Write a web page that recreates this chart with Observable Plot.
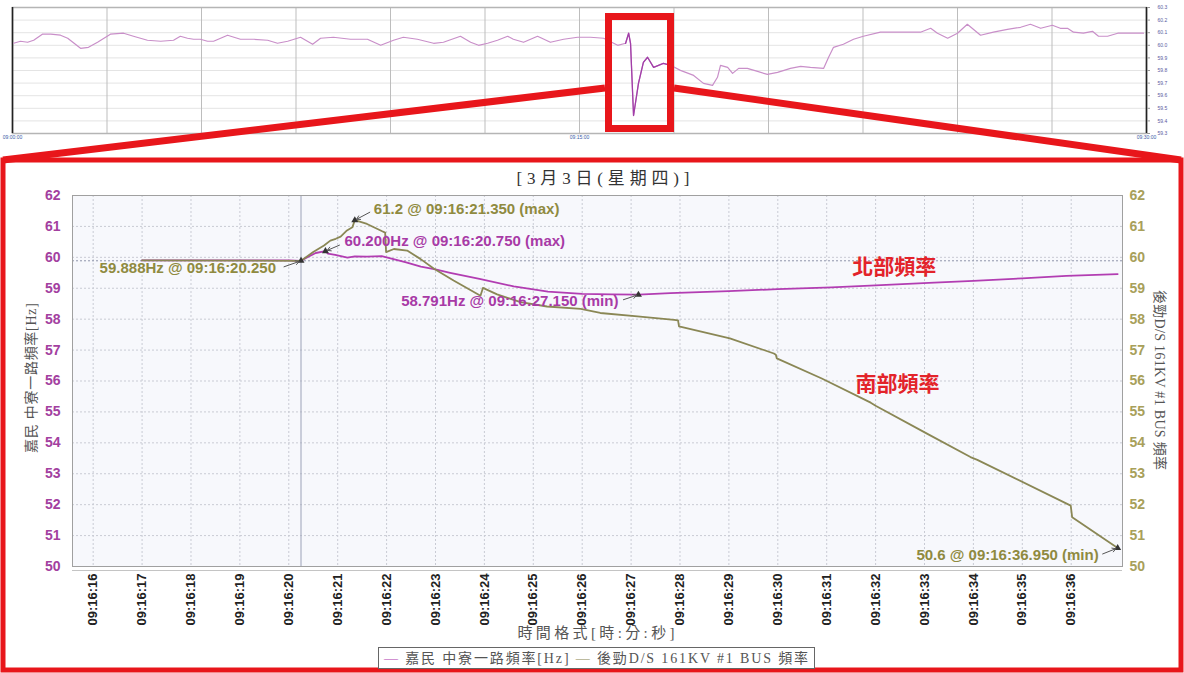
<!DOCTYPE html>
<html>
<head>
<meta charset="utf-8">
<script src="https://cdn.jsdelivr.net/npm/d3@7"></script>
<script src="https://cdn.jsdelivr.net/npm/@observablehq/plot@0.6"></script>
<style>
  html, body { margin: 0; padding: 0; background: #fff; }
  #page { position: relative; width: 1184px; height: 673px; overflow: hidden; background: #fff; }
  #ov { position: absolute; left: 0; top: 0; }
  #main { position: absolute; left: 0; top: 185px; }
  #deco { position: absolute; left: 0; top: 0; pointer-events: none; }
  .serif { font-family: "Liberation Serif", "Noto Sans CJK TC", serif; }
</style>
</head>
<body>
<div id="page">
  <div id="ov"></div>
  <div id="main"></div>
  <svg id="deco" width="1184" height="673"></svg>
</div>
<script>
// ---------------- DATA ----------------
// Overview (top strip): minutes after 09:00:00, frequency [Hz]
const ovT = [0.03,0.21,0.40,0.56,0.79,1.01,1.27,1.46,1.80,2.01,2.25,2.59,2.94,3.20,3.57,3.92,4.26,4.44,4.63,4.79,4.97,5.16,5.32,5.69,6.03,6.38,6.75,7.01,7.28,7.62,7.94,8.15,8.49,8.94,9.39,9.74,10.08,10.34,10.71,11.14,11.40,11.85,12.12,12.33,12.57,12.83,13.10,13.25,13.52,13.89,14.23,14.58,14.95,15.29,15.64,16.01,16.22,16.30,16.35,16.43,16.56,16.69,16.80,16.96,17.09,17.22,17.41,17.67,18.02,18.28,18.52,18.65,18.73,18.92,19.05,19.21,19.44,19.71,19.97,20.24,20.58,20.85,21.11,21.46,21.59,21.72,21.98,22.25,22.51,22.96,23.31,23.68,24.02,24.29,24.47,24.74,25.00,25.26,25.61,25.95,26.32,26.67,26.93,27.20,27.51,27.72,27.91,28.07,28.33,28.57,28.73,28.97,29.24,29.66,29.92];
const ovV = [60.016,60.032,60.024,60.040,60.088,60.088,60.080,60.056,59.976,59.984,60.024,60.088,60.096,60.072,60.040,60.032,60.040,60.072,60.056,60.048,60.048,60.032,60.032,60.080,60.048,60.048,60.040,60.016,60.032,60.064,60.008,60.056,60.064,60.048,60.048,60.000,60.040,60.064,60.048,60.016,60.024,60.072,60.024,60.000,60.016,60.040,60.072,60.048,60.024,60.072,60.024,60.048,60.064,60.064,60.056,60.000,60.016,60.096,60.016,59.443,59.698,59.865,59.905,59.825,59.841,59.857,59.841,59.801,59.761,59.698,59.682,59.746,59.841,59.825,59.777,59.817,59.817,59.793,59.769,59.785,59.817,59.833,59.825,59.817,59.905,59.984,60.008,60.048,60.072,60.104,60.104,60.104,60.104,60.135,60.096,60.056,60.096,60.167,60.080,60.104,60.127,60.143,60.167,60.135,60.159,60.135,60.135,60.104,60.096,60.111,60.072,60.072,60.096,60.096,60.096];
const ovYTicks = [59.3,59.4,59.5,59.6,59.7,59.8,59.9,60.0,60.1,60.2,60.3];
const ovXTicks = [0, 15, 30];
const ovXLabels = ["09:00:00", "09:15:00", "09:30:00"];

// Main chart: seconds after 09:16:00
const northName = "嘉民 中寮一路頻率[Hz]";
const southName = "後勁D/S 161KV #1 BUS 頻率";
const northT = [17.0,18.0,19.0,20.0,20.25,20.4,20.55,20.75,20.8,20.95,21.2,21.35,21.6,21.9,22.1,22.4,22.7,23.0,23.3,23.9,24.6,25.3,26.0,26.6,27.15,27.8,29.0,30.0,31.1,32.0,33.2,34.0,35.0,35.9,36.95];
const northV = [59.90,59.90,59.90,59.90,59.888,60.02,60.14,60.20,60.12,60.08,59.99,60.03,60.02,60.04,59.96,59.84,59.70,59.61,59.50,59.30,59.06,58.89,58.82,58.80,58.791,58.84,58.91,58.97,59.03,59.09,59.18,59.24,59.32,59.40,59.46];
const southT = [17.0,20.25,20.5,20.72,20.85,20.96,21.06,21.19,21.3,21.35,21.6,21.9,21.97,21.99,22.15,22.42,22.69,22.97,23.37,23.92,23.97,24.26,24.74,25.28,25.97,26.37,27.13,27.88,27.96,27.98,29.02,29.92,29.96,29.98,30.9,31.9,32.0,33.06,33.94,34.08,35.99,36.02,36.95];
const southV = [59.90,59.888,60.17,60.38,60.54,60.60,60.67,60.87,60.97,61.2,61.08,60.85,60.80,60.17,60.27,60.22,59.95,59.63,59.25,58.76,59.01,58.80,58.55,58.41,58.33,58.20,58.09,57.98,57.96,57.77,57.38,56.89,56.85,56.73,56.08,55.30,55.20,54.29,53.54,53.45,51.97,51.59,50.6];
const xTicks = [16,17,18,19,20,21,22,23,24,25,26,27,28,29,30,31,32,33,34,35,36];
const xTickLabels = xTicks.map(s => "09:16:" + s);
const yTicks = [50,51,52,53,54,55,56,57,58,59,60,61,62];

// Marked points (crosshair, max, min)
const markT = [20.25, 21.35, 20.75, 27.15, 36.95];
const markV = [59.888, 61.2, 60.2, 58.791, 50.6];
const markSeries = ["south", "south", "north", "north", "south"];
const markLabel = ["59.888Hz @ 09:16:20.250", "61.2 @ 09:16:21.350 (max)", "60.200Hz @ 09:16:20.750 (max)", "58.791Hz @ 09:16:27.150 (min)", "50.6 @ 09:16:36.950 (min)"];

const regionLabels = ["北部頻率", "南部頻率"];
const titleText = "[3月3日(星期四)]";
const xTitle = "時間格式[時:分:秒]";

// ---------------- STYLE / LAYOUT ----------------
const C_NORTH = "#b23db2", C_SOUTH = "#8a8755";
const C_NORTH_TXT = "#a83aa6", C_SOUTH_TXT = "#8f8a40";
const C_LEFT_TICK = "#a3409f", C_RIGHT_TICK = "#a8a05a";
const RED = "#e8161b";

const ov = ovT.map((t, i) => ({t, v: ovV[i]}));
const north = northT.map((t, i) => ({t, v: northV[i]}));
const south = southT.map((t, i) => ({t, v: southV[i]}));

// ---- Overview chart ----
const ovChart = Plot.plot({
  width: 1184, height: 140,
  marginLeft: 12, marginRight: 38, marginTop: 7, marginBottom: 7,
  x: {domain: [0, 30]},
  y: {domain: [59.3, 60.3]},
  style: {background: "transparent", fontFamily: "Liberation Sans, sans-serif", overflow: "visible"},
  marks: [
    Plot.gridY({ticks: ovYTicks, stroke: "#e4e4e4", strokeOpacity: 1}),
    Plot.gridX({ticks: d3.range(0, 30.01, 2.5), stroke: "#bdbdbd", strokeOpacity: 1}),
    Plot.frame({stroke: "#b5b5b5", strokeWidth: 1.5}),
    Plot.ruleX([0, 30], {stroke: "#222", strokeWidth: 1.6}),
    Plot.line(ov, {x: "t", y: "v", stroke: "#c98fc9", strokeWidth: 1.2}),
    Plot.line(ov.filter(d => d.t >= 16.2 && d.t <= 17.5), {x: "t", y: "v", stroke: "#a23ea8", strokeWidth: 1.3}),
    Plot.axisY({anchor: "right", ticks: ovYTicks, tickFormat: d3.format(".1f"), tickSize: 3, tickPadding: 8, fontSize: 5, fill: "#5a5aa0", stroke: "#999", label: null}),
    Plot.axisX({ticks: ovXTicks, tickFormat: (d, i) => ovXLabels[ovXTicks.indexOf(d)], tickSize: 0, tickPadding: 2, fontSize: 5, fill: "#3a5aa8", label: null})
  ]
});
document.getElementById("ov").appendChild(ovChart);

// ---- Main chart ----
const MW = 1184, MH = 445, ML = 72, MR = 62, MT = 10, MB = 64;
const xDom = [15.577, 37.049], yDom = [50, 62];
const kx = (MW - ML - MR) / (xDom[1] - xDom[0]);   // px per second
const ky = (MH - MT - MB) / (yDom[1] - yDom[0]);   // px per Hz

// pixel offsets of each annotation's text and arrow tail, relative to its point
const annLayout = [
  {tdx: -25, tdy: 7, anchor: "end", adx: -17, ady: 6},
  {tdx: 19, tdy: -11, anchor: "start", adx: 15, ady: -8},
  {tdx: 19, tdy: -10, anchor: "start", adx: 14, ady: -6},
  {tdx: -20, tdy: 6, anchor: "end", adx: -15, ady: 5},
  {tdx: -19, tdy: 7, anchor: "end", adx: -15, ady: 6}
];
const marks = markT.map((t, i) => ({t, v: markV[i], label: markLabel[i], series: markSeries[i], ...annLayout[i]}));

const annMarks = marks.flatMap(m => [
  Plot.arrow([m], {
    x1: d => d.t + d.adx / kx, y1: d => d.v - d.ady / ky,
    x2: "t", y2: "v", stroke: "#555", strokeWidth: 1, headLength: 6, insetEnd: 2
  }),
  Plot.text([m], {
    x: "t", y: "v", text: "label", dx: m.tdx, dy: m.tdy, textAnchor: m.anchor,
    fill: m.series === "north" ? C_NORTH_TXT : C_SOUTH_TXT,
    fontSize: 15, fontWeight: "bold", fontFamily: "Liberation Sans, Arial, sans-serif"
  })
]);

const regionPos = [{t: 32.38, v: 59.67}, {t: 32.45, v: 55.91}];

const mainChart = Plot.plot({
  width: MW, height: MH,
  marginLeft: ML, marginRight: MR, marginTop: MT, marginBottom: MB,
  x: {domain: xDom},
  y: {domain: yDom},
  style: {background: "transparent", fontFamily: "Liberation Sans, Arial, sans-serif", overflow: "visible"},
  marks: [
    Plot.frame({fill: "#f7f8fc"}),
    Plot.gridX({ticks: xTicks, stroke: "#c9cbd4", strokeOpacity: 1, strokeDasharray: "2,2"}),
    Plot.gridY({ticks: yTicks, stroke: "#c9cbd4", strokeOpacity: 1, strokeDasharray: "2,2"}),
    Plot.ruleX([markT[0]], {stroke: "#9ca2b8", strokeWidth: 1}),
    Plot.ruleY([markV[0]], {stroke: "#8e94aa", strokeDasharray: "2,2"}),
    Plot.line(north, {x: "t", y: "v", stroke: C_NORTH, strokeWidth: 1.8}),
    Plot.line(south, {x: "t", y: "v", stroke: C_SOUTH, strokeWidth: 1.8}),
    Plot.frame({stroke: "#a0a0a0"}),
    Plot.ruleY([yDom[0]], {stroke: "#c4c4c4", dy: 4}),
    Plot.dot(marks, {x: "t", y: "v", r: 2.6, symbol: "triangle", fill: "#333"}),
    ...annMarks,
    Plot.text(regionLabels, {
      x: (d, i) => regionPos[i].t, y: (d, i) => regionPos[i].v, text: d => d,
      fill: "#e3232a", fontSize: 21, fontWeight: "bold", fontFamily: "Noto Sans CJK TC, sans-serif"
    }),
    Plot.axisY({anchor: "left", ticks: yTicks, tickSize: 0, tickPadding: 12, fontSize: 14, fontWeight: "bold", fill: C_LEFT_TICK, label: null}),
    Plot.axisY({anchor: "right", ticks: yTicks, tickSize: 0, tickPadding: 7, fontSize: 14, fontWeight: "bold", fill: C_RIGHT_TICK, label: null}),
    Plot.axisX({ticks: xTicks, tickFormat: d => xTickLabels[xTicks.indexOf(d)], tickRotate: -90, tickSize: 0, tickPadding: 7, fontSize: 13, fontWeight: "bold", fill: "#222", label: null})
  ]
});
document.getElementById("main").appendChild(mainChart);

// ---- Decorations: zoom callout, frame, titles, legend ----
const deco = d3.select("#deco");
deco.append("line").attr("x1", 605).attr("y1", 88).attr("x2", 3).attr("y2", 160).attr("stroke", RED).attr("stroke-width", 7);
deco.append("line").attr("x1", 674).attr("y1", 88).attr("x2", 1181).attr("y2", 160).attr("stroke", RED).attr("stroke-width", 7);
deco.append("rect").attr("x", 608.5).attr("y", 16.5).attr("width", 62).attr("height", 112).attr("fill", "none").attr("stroke", RED).attr("stroke-width", 7);
deco.append("rect").attr("x", 3).attr("y", 160).attr("width", 1178).attr("height", 510).attr("fill", "none").attr("stroke", RED).attr("stroke-width", 5);

deco.append("text").attr("class", "serif").attr("x", 603).attr("y", 184).attr("text-anchor", "middle")
  .attr("font-size", 17).attr("fill", "#333").attr("textLength", 173).attr("lengthAdjust", "spacing").text(titleText);

deco.append("text").attr("class", "serif").attr("transform", "translate(31,378) rotate(-90)")
  .attr("text-anchor", "middle").attr("dy", "0.35em").attr("font-size", 14).attr("fill", "#555")
  .attr("textLength", 150).attr("lengthAdjust", "spacing").text(northName);

deco.append("text").attr("class", "serif").attr("transform", "translate(1160,380) rotate(90)")
  .attr("text-anchor", "middle").attr("dy", "0.35em").attr("font-size", 14).attr("fill", "#555")
  .attr("textLength", 180).attr("lengthAdjust", "spacing").text(southName);

deco.append("text").attr("class", "serif").attr("x", 596).attr("y", 633)
  .attr("text-anchor", "middle").attr("dy", "0.35em").attr("font-size", 15).attr("fill", "#555")
  .attr("textLength", 157).attr("lengthAdjust", "spacing").text(xTitle);

deco.append("rect").attr("x", 378.5).attr("y", 647.5).attr("width", 436).attr("height", 21)
  .attr("fill", "#fff").attr("stroke", "#666").attr("stroke-width", 1);
const lg = deco.append("text").attr("class", "serif").attr("x", 384).attr("y", 658).attr("dy", "0.35em")
  .attr("font-size", 14).attr("fill", "#555").attr("textLength", 424).attr("lengthAdjust", "spacing");
lg.append("tspan").attr("fill", C_NORTH).text("—");
lg.append("tspan").text(" " + northName + " ");
lg.append("tspan").attr("fill", C_SOUTH).text("—");
lg.append("tspan").text(" " + southName);
</script>
</body>
</html>
